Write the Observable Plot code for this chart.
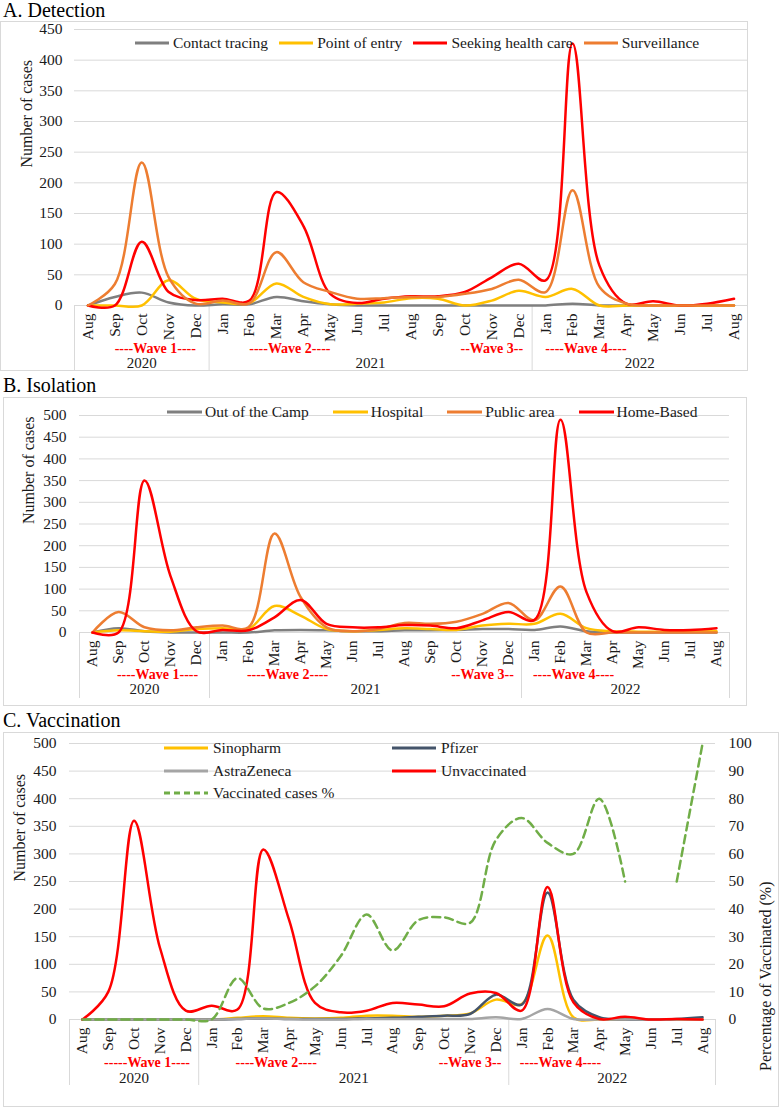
<!DOCTYPE html>
<html>
<head>
<meta charset="utf-8">
<script src="https://cdn.jsdelivr.net/npm/d3@7"></script>
<script src="https://cdn.jsdelivr.net/npm/@observablehq/plot@0.6"></script>
<style>
  body { margin: 0; background: #fff; font-family: "Liberation Serif", "Times New Roman", Times, "DejaVu Serif", serif; }
  #page { position: relative; width: 782px; height: 1110px; overflow: hidden; background: #fff; }
  .title { position: absolute; left: 3px; font-size: 20px; line-height: 1; color: #000; white-space: nowrap; }
  .box { position: absolute; border: 1px solid #d9d9d9; }
  .box svg { display: block; max-width: none; }
  .legend { position: absolute; display: flex; align-items: center; font-size: 15.5px; line-height: 18px; color: #1a1a1a; }
  .legend.grid { display: grid; row-gap: 4.5px; }
  .item { display: flex; align-items: center; white-space: nowrap; }
  .item svg { display: block; }
</style>
</head>
<body>
<div id="page"></div>
<script>
// Months Aug 2020 – Aug 2022
const months = ["Aug","Sep","Oct","Nov","Dec","Jan","Feb","Mar","Apr","May","Jun","Jul",
                "Aug","Sep","Oct","Nov","Dec","Jan","Feb","Mar","Apr","May","Jun","Jul","Aug"];
const years = [
  {label: "2020", from: 0, to: 4},
  {label: "2021", from: 5, to: 16},
  {label: "2022", from: 17, to: 24}
];

// A. Detection
const detectionSeries = ["Contact tracing", "Point of entry", "Seeking health care", "Surveillance"];
const detectionColors = ["#7f7f7f", "#ffc000", "#ff0000", "#ed7d31"];
const contactTracing = [0,14,21,5,0,2,2,14,7,2,0,0,0,0,0,0,0,0,3,0,0,0,0,0,0];
const pointOfEntry   = [0,0,0,41,11,5,4,36,14,2,3,5,12,11,0,8,24,14,27,0,0,0,0,0,0];
const seekingCare    = [0,0,104,22,9,11,8,185,130,19,4,11,15,15,22,46,68,41,427,65,3,7,0,3,11];
const surveillance   = [0,35,233,46,3,8,4,87,38,22,11,12,14,14,19,27,42,22,188,30,3,0,0,0,0];
const detectionWaves = [
  {label: "----Wave 1----", from: 1, to: 4},
  {label: "----Wave 2----", from: 6, to: 9},
  {label: "--Wave 3--", from: 14, to: 16},
  {label: "----Wave 4----", from: 17, to: 20}
];

// B. Isolation
const isolationSeries = ["Out of the Camp", "Hospital", "Public area", "Home-Based"];
const isolationColors = ["#7f7f7f", "#ffc000", "#ed7d31", "#ff0000"];
const outOfCamp  = [0,10,3,0,0,0,0,5,6,5,3,3,5,5,6,8,8,6,14,3,0,0,0,0,0];
const hospital   = [0,5,3,2,8,10,8,61,39,8,3,6,10,8,6,16,20,20,43,10,3,2,2,2,3];
const publicArea = [0,47,12,5,12,16,12,228,82,12,3,8,22,20,25,43,68,28,106,0,0,0,0,0,0];
const homeBased  = [0,0,350,130,3,6,5,35,75,20,12,12,17,16,10,28,47,29,490,93,3,12,6,6,10];
const isolationWaves = detectionWaves;

// C. Vaccination
const vaccineSeries = ["Sinopharm", "Pfizer", "AstraZeneca", "Unvaccinated"];
const vaccineColors = ["#ffc000", "#44546a", "#a5a5a5", "#ff0000"];
const sinopharm    = [0,0,0,0,0,0,3,6,3,2,3,7,7,5,7,11,36,28,152,4,0,0,0,0,0];
const pfizer       = [0,0,0,0,0,0,1,2,1,1,1,2,3,5,7,10,45,27,230,36,4,0,0,1,4];
const astraZeneca  = [0,0,0,0,0,0,1,2,1,0,0,1,1,1,1,1,4,1,19,1,0,0,0,0,0];
const unvaccinated = [0,50,360,130,16,25,18,308,180,30,13,16,30,27,24,47,48,16,240,31,1,5,0,1,0];
const pctLabel = "Vaccinated cases %";
const pctColor = "#70ad47";
const vaccinatedPct = [0,0,0,0,0,0,15,4,6,12,23,38,25,36,37,35,65,73,64,60,80,50,null,50,100];
const vaccineWaves = [
  {label: "-----Wave 1----", from: 1, to: 4},
  {label: "----Wave 2----", from: 6, to: 9},
  {label: "--Wave 3--", from: 14, to: 16},
  {label: "----Wave 4----", from: 17, to: 20}
];

const FONT = '"Liberation Serif", "Times New Roman", Times, "DejaVu Serif", serif';
const GRID = "#d9d9d9";
const page = d3.select("#page");

function addTitle(text, top) {
  page.append("div").attr("class", "title").style("top", top + "px").text(text);
}

function addLegend(entries, {left, top, gap, swatch, textGap, columns}) {
  const lg = page.append("div")
    .attr("class", columns ? "legend grid" : "legend")
    .style("left", left + "px")
    .style("top", top + "px");
  if (columns) lg.style("grid-template-columns", columns);
  else lg.style("gap", gap + "px");
  for (const e of entries) {
    const it = lg.append("div").attr("class", "item");
    const sv = it.append("svg").attr("width", swatch).attr("height", 8);
    sv.append("line")
      .attr("x1", 0).attr("x2", swatch).attr("y1", 4).attr("y2", 4)
      .attr("stroke", e.color).attr("stroke-width", 3)
      .attr("stroke-dasharray", e.dash || null);
    it.append("span").style("margin-left", textGap + "px").text(e.name);
  }
}

function drawPanel(p) {
  const n = months.length;
  const rows = p.series.flatMap((name, k) => p.values[k].map((v, i) => ({i, v, name})));
  const bounds = [years[0].from - 0.5, ...years.map(d => d.to + 0.5)];
  const ticks = d3.range(0, p.yMax + 1, p.yStep);
  const marks = [
    Plot.gridY(ticks, {stroke: GRID, strokeOpacity: 1}),
    Plot.axisY(ticks, {tickSize: 0, tickPadding: p.yPad, label: null, fill: "#1a1a1a"}),
    Plot.axisX(d3.range(n), {tickFormat: i => months[i], tickRotate: -90, tickSize: 0,
                             tickPadding: p.xPad, label: null, fill: "#1a1a1a"}),
    // group dividers of the multi-level category axis
    Plot.ruleX(bounds, {x: d => d, y1: 0, y2: 0, insetBottom: -p.ruleLen, stroke: GRID}),
    Plot.line(rows, {x: "i", y: "v", z: "name", stroke: "name", curve: "catmull-rom", strokeWidth: 2.5}),
    Plot.text(p.waves, {x: d => (d.from + d.to) / 2, y: 0, text: "label", dy: p.waveDy,
                        fill: "#ff0000", fontWeight: "bold", fontSize: 14}),
    Plot.text(years, {x: d => (d.from + d.to) / 2, y: 0, text: "label", dy: p.yearDy,
                      fill: "#1a1a1a", fontSize: 15}),
    Plot.text(["Number of cases"], {frameAnchor: "left", text: d => d, rotate: -90, dx: p.yLabelDx,
                                    fill: "#1a1a1a", fontSize: 16})
  ];
  if (p.extra) marks.push(...p.extra(ticks));

  const chart = Plot.plot({
    width: p.width,
    height: p.height,
    marginTop: p.mt, marginBottom: p.mb, marginLeft: p.ml, marginRight: p.mr,
    x: {type: "linear", domain: [-0.5, n - 0.5], axis: null},
    y: {domain: [0, p.yMax], axis: null},
    color: {domain: p.series, range: p.colors},
    style: {fontFamily: FONT, fontSize: "15.5px", color: "#1a1a1a", background: "transparent", overflow: "visible"},
    marks
  });
  const box = page.append("div").attr("class", "box")
    .style("left", p.left + "px").style("top", p.top + "px")
    .style("width", p.width + "px").style("height", p.height + "px");
  box.node().appendChild(chart);
}

// ---------- A. Detection ----------
addTitle("A. Detection", 0);
drawPanel({
  left: 0, top: 21, width: 746, height: 348,
  mt: 7, mb: 65, ml: 73, mr: 0,
  yMax: 450, yStep: 50, yPad: 12, xPad: 8,
  ruleLen: 65, waveDy: 43, yearDy: 58, yLabelDx: -48,
  series: detectionSeries, colors: detectionColors,
  values: [contactTracing, pointOfEntry, seekingCare, surveillance],
  waves: detectionWaves
});
addLegend(detectionSeries.map((name, k) => ({name, color: detectionColors[k]})),
  {left: 135, top: 34, gap: 11, swatch: 34, textGap: 4});

// ---------- B. Isolation ----------
addTitle("B. Isolation", 375);
drawPanel({
  left: 3, top: 397, width: 742, height: 307,
  mt: 17, mb: 73, ml: 75, mr: 17,
  yMax: 500, yStep: 50, yPad: 13, xPad: 8,
  ruleLen: 66, waveDy: 42, yearDy: 57, yLabelDx: -51,
  series: isolationSeries, colors: isolationColors,
  values: [outOfCamp, hospital, publicArea, homeBased],
  waves: isolationWaves
});
addLegend(isolationSeries.map((name, k) => ({name, color: isolationColors[k]})),
  {left: 167, top: 403, gap: 24, swatch: 35, textGap: 3});

// ---------- C. Vaccination ----------
addTitle("C. Vaccination", 710);
const leftMax = 500, rightMax = 100;
const k = leftMax / rightMax; // secondary-axis mapping onto the primary y scale
const pctRows = vaccinatedPct.map((v, i) => ({i, v}));
drawPanel({
  left: 3, top: 732, width: 774, height: 373,
  mt: 10, mb: 87, ml: 65, mr: 63,
  yMax: leftMax, yStep: 50, yPad: 13, xPad: 8,
  ruleLen: 66, waveDy: 43, yearDy: 59, yLabelDx: -50,
  series: vaccineSeries, colors: vaccineColors,
  values: [sinopharm, pfizer, astraZeneca, unvaccinated],
  waves: vaccineWaves,
  extra: () => [
    Plot.line(pctRows, {x: "i", y: d => d.v == null ? NaN : d.v * k, stroke: pctColor,
                        strokeDasharray: "8,5", curve: "catmull-rom", strokeWidth: 2.5}),
    Plot.axisY(d3.range(0, rightMax + 1, 10).map(v => v * k),
               {anchor: "right", tickFormat: v => v / k, tickSize: 0, tickPadding: 13, label: null, fill: "#1a1a1a"}),
    Plot.text(["Percentage of Vaccinated (%)"], {frameAnchor: "right", text: d => d, rotate: -90, dx: 50,
                                                fill: "#1a1a1a", fontSize: 16})
  ]
});
addLegend([
    {name: vaccineSeries[0], color: vaccineColors[0]},
    {name: vaccineSeries[1], color: vaccineColors[1]},
    {name: vaccineSeries[2], color: vaccineColors[2]},
    {name: vaccineSeries[3], color: vaccineColors[3]},
    {name: pctLabel, color: pctColor, dash: "6,4"}
  ],
  {left: 164, top: 739, swatch: 44, textGap: 5, columns: "228px 228px"});
</script>
</body>
</html>
